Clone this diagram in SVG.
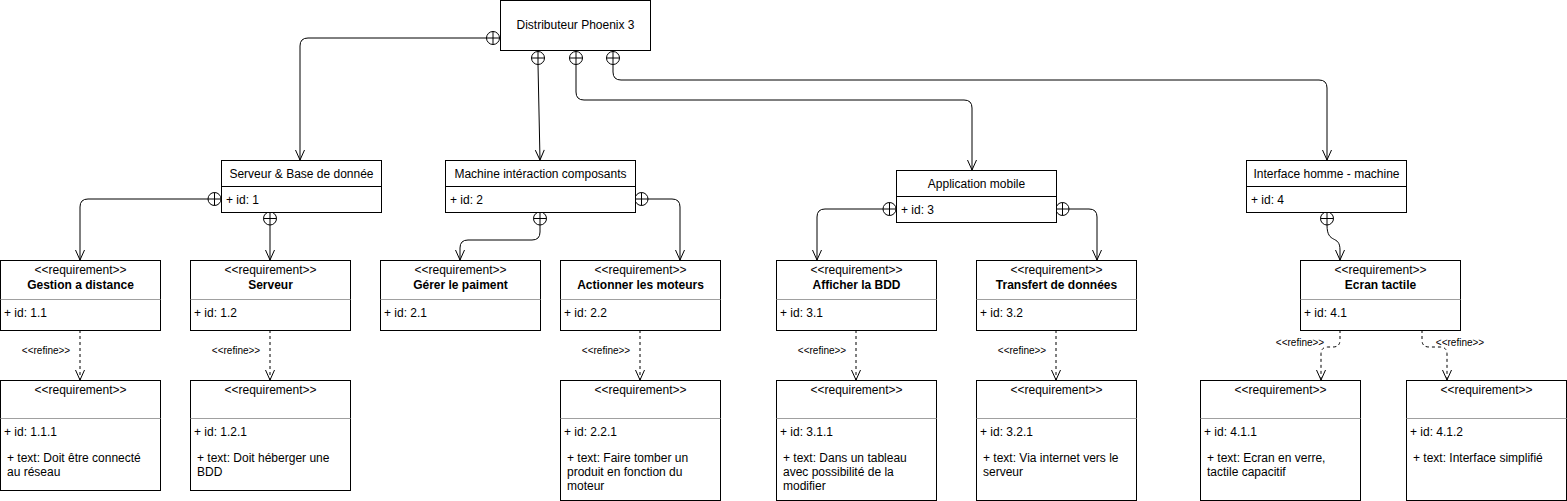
<svg xmlns="http://www.w3.org/2000/svg" xmlns:xlink="http://www.w3.org/1999/xlink" width="1567" height="501" viewBox="0 0 1567 501">
<style>
.box{fill:#fff;stroke:#000;stroke-width:1}
.dv{stroke:#000;stroke-width:1}
.gv{stroke:#a0a0a0;stroke-width:1}
.t{font-family:"Liberation Sans",Arial,sans-serif;font-size:12px;fill:#000}
.b{font-weight:bold}
.c{text-anchor:middle}
.conn{fill:none;stroke:#000;stroke-width:1}
.dash{stroke-dasharray:3 3}
.rf{font-family:"Liberation Sans",Arial,sans-serif;font-size:10px;fill:#000;text-anchor:middle}
</style>
<defs>
<marker id="arr" viewBox="-1 -6 12 12" refX="10" refY="0" markerWidth="12" markerHeight="12" markerUnits="userSpaceOnUse" orient="auto">
<path d="M0,-4.5 L10,0 L0,4.5" fill="none" stroke="#000" stroke-width="1"/>
</marker>
<g id="cp"><circle r="6.5" fill="#fff" stroke="#000" stroke-width="1"/><path d="M-6.5,0H6.5M0,-6.5V6.5" stroke="#000" stroke-width="1"/></g>
</defs>
<rect width="1567" height="501" fill="#fff"/>

<g id="connectors">
<path class="conn" marker-end="url(#arr)" d="M486.5,38 H308 Q300,38 300,46 V160"/>
<path class="conn" marker-end="url(#arr)" d="M538,64.5 L540,160"/>
<path class="conn" marker-end="url(#arr)" d="M576,64.5 V92 Q576,100 584,100 H964 Q972,100 972,108 V170"/>
<path class="conn" marker-end="url(#arr)" d="M613,64.5 V72 Q613,80 621,80 H1319 Q1327,80 1327,88 V160"/>
<path class="conn" marker-end="url(#arr)" d="M208,199 H88 Q80,199 80,207 V260"/>
<path class="conn" marker-end="url(#arr)" d="M270,225 V260"/>
<path class="conn" marker-end="url(#arr)" d="M540,225 V232 Q540,240 532,240 H468 Q460,240 460,248 V260"/>
<path class="conn" marker-end="url(#arr)" d="M648,199 H672 Q680,199 680,207 V260"/>
<path class="conn" marker-end="url(#arr)" d="M883,209 H825 Q817,209 817,217 V260"/>
<path class="conn" marker-end="url(#arr)" d="M1069,209 H1089 Q1097,209 1097,217 V260"/>
<path class="conn" marker-end="url(#arr)" d="M1327,225 C1327,245 1340,234 1340,250 V260"/>
<path class="conn dash" marker-end="url(#arr)" d="M80,330 V380"/>
<path class="conn dash" marker-end="url(#arr)" d="M270,330 V380"/>
<path class="conn dash" marker-end="url(#arr)" d="M640,330 V380"/>
<path class="conn dash" marker-end="url(#arr)" d="M856,330 V380"/>
<path class="conn dash" marker-end="url(#arr)" d="M1056,330 V380"/>
<path class="conn dash" marker-end="url(#arr)" d="M1340,330 V340 Q1340,347 1333,347 H1328 Q1321,347 1321,354 V380"/>
<path class="conn dash" marker-end="url(#arr)" d="M1422,330 V340 Q1422,347 1429,347 H1440 Q1447,347 1447,354 V380"/>
<use xlink:href="#cp" x="493" y="38"/>
<use xlink:href="#cp" x="538" y="58"/>
<use xlink:href="#cp" x="576" y="58"/>
<use xlink:href="#cp" x="613" y="58"/>
<use xlink:href="#cp" x="214.5" y="199"/>
<use xlink:href="#cp" x="270" y="218.5"/>
<use xlink:href="#cp" x="540" y="218.5"/>
<use xlink:href="#cp" x="641.5" y="199"/>
<use xlink:href="#cp" x="889.5" y="209"/>
<use xlink:href="#cp" x="1062.5" y="209"/>
<use xlink:href="#cp" x="1327" y="218.5"/>
<text class="rf" x="46" y="354">&lt;&lt;refine&gt;&gt;</text>
<text class="rf" x="236" y="354">&lt;&lt;refine&gt;&gt;</text>
<text class="rf" x="606" y="354">&lt;&lt;refine&gt;&gt;</text>
<text class="rf" x="822" y="354">&lt;&lt;refine&gt;&gt;</text>
<text class="rf" x="1022" y="354">&lt;&lt;refine&gt;&gt;</text>
<text class="rf" x="1300" y="346">&lt;&lt;refine&gt;&gt;</text>
<text class="rf" x="1460" y="346">&lt;&lt;refine&gt;&gt;</text>
</g>

<g id="n-root">
<rect class="box" x="500.5" y="0.5" width="150" height="50"/>
<text class="t c" x="575.5" y="29">Distributeur Phoenix 3</text>
</g>

<g id="n-1">
<rect class="box" x="221.5" y="160.5" width="160" height="52"/>
<line class="dv" x1="221.5" y1="186.5" x2="381.5" y2="186.5"/>
<text class="t c" x="301.5" y="178">Serveur &amp; Base de donnée</text>
<text class="t" x="226" y="204">+ id: 1</text>
</g>
<g id="n-2">
<rect class="box" x="445.5" y="160.5" width="190" height="52"/>
<line class="dv" x1="445.5" y1="186.5" x2="635.5" y2="186.5"/>
<text class="t c" x="540.5" y="178">Machine intéraction composants</text>
<text class="t" x="450" y="204">+ id: 2</text>
</g>
<g id="n-3">
<rect class="box" x="896.5" y="170.5" width="160" height="52"/>
<line class="dv" x1="896.5" y1="196.5" x2="1056.5" y2="196.5"/>
<text class="t c" x="976.5" y="188">Application mobile</text>
<text class="t" x="901" y="214">+ id: 3</text>
</g>
<g id="n-4">
<rect class="box" x="1246.5" y="160.5" width="160" height="52"/>
<line class="dv" x1="1246.5" y1="186.5" x2="1406.5" y2="186.5"/>
<text class="t c" x="1326.5" y="178">Interface homme - machine</text>
<text class="t" x="1251" y="204">+ id: 4</text>
</g>

<g id="r-1-1">
<rect class="box" x="0.5" y="260.5" width="160" height="70"/>
<line class="gv" x1="0.5" y1="299.5" x2="160.5" y2="299.5"/>
<text class="t c" x="80.5" y="274">&lt;&lt;requirement&gt;&gt;</text>
<text class="t c b" x="80.5" y="289">Gestion a distance</text>
<text class="t" x="4" y="317">+ id: 1.1</text>
</g>
<g id="r-1-2">
<rect class="box" x="190.5" y="260.5" width="160" height="70"/>
<line class="gv" x1="190.5" y1="299.5" x2="350.5" y2="299.5"/>
<text class="t c" x="270.5" y="274">&lt;&lt;requirement&gt;&gt;</text>
<text class="t c b" x="270.5" y="289">Serveur</text>
<text class="t" x="194" y="317">+ id: 1.2</text>
</g>
<g id="r-2-1">
<rect class="box" x="380.5" y="260.5" width="160" height="70"/>
<line class="gv" x1="380.5" y1="299.5" x2="540.5" y2="299.5"/>
<text class="t c" x="460.5" y="274">&lt;&lt;requirement&gt;&gt;</text>
<text class="t c b" x="460.5" y="289">Gérer le paiment</text>
<text class="t" x="384" y="317">+ id: 2.1</text>
</g>
<g id="r-2-2">
<rect class="box" x="560.5" y="260.5" width="160" height="70"/>
<line class="gv" x1="560.5" y1="299.5" x2="720.5" y2="299.5"/>
<text class="t c" x="640.5" y="274">&lt;&lt;requirement&gt;&gt;</text>
<text class="t c b" x="640.5" y="289">Actionner les moteurs</text>
<text class="t" x="564" y="317">+ id: 2.2</text>
</g>
<g id="r-3-1">
<rect class="box" x="776.5" y="260.5" width="160" height="70"/>
<line class="gv" x1="776.5" y1="299.5" x2="936.5" y2="299.5"/>
<text class="t c" x="856.5" y="274">&lt;&lt;requirement&gt;&gt;</text>
<text class="t c b" x="856.5" y="289">Afficher la BDD</text>
<text class="t" x="780" y="317">+ id: 3.1</text>
</g>
<g id="r-3-2">
<rect class="box" x="976.5" y="260.5" width="160" height="70"/>
<line class="gv" x1="976.5" y1="299.5" x2="1136.5" y2="299.5"/>
<text class="t c" x="1056.5" y="274">&lt;&lt;requirement&gt;&gt;</text>
<text class="t c b" x="1056.5" y="289">Transfert de données</text>
<text class="t" x="980" y="317">+ id: 3.2</text>
</g>
<g id="r-4-1">
<rect class="box" x="1300.5" y="260.5" width="160" height="70"/>
<line class="gv" x1="1300.5" y1="299.5" x2="1460.5" y2="299.5"/>
<text class="t c" x="1380.5" y="274">&lt;&lt;requirement&gt;&gt;</text>
<text class="t c b" x="1380.5" y="289">Ecran tactile</text>
<text class="t" x="1304" y="317">+ id: 4.1</text>
</g>

<g id="r-1-1-1">
<rect class="box" x="0.5" y="380.5" width="160" height="110"/>
<line class="gv" x1="0.5" y1="418.5" x2="160.5" y2="418.5"/>
<text class="t c" x="80.5" y="394">&lt;&lt;requirement&gt;&gt;</text>
<text class="t" x="4" y="436">+ id: 1.1.1</text>
<text class="t" x="7" y="462">+ text: Doit être connecté</text>
<text class="t" x="7" y="476">au réseau</text>
</g>
<g id="r-1-2-1">
<rect class="box" x="190.5" y="380.5" width="160" height="110"/>
<line class="gv" x1="190.5" y1="418.5" x2="350.5" y2="418.5"/>
<text class="t c" x="270.5" y="394">&lt;&lt;requirement&gt;&gt;</text>
<text class="t" x="194" y="436">+ id: 1.2.1</text>
<text class="t" x="197" y="462">+ text: Doit héberger une</text>
<text class="t" x="197" y="476">BDD</text>
</g>
<g id="r-2-2-1">
<rect class="box" x="560.5" y="380.5" width="160" height="120"/>
<line class="gv" x1="560.5" y1="418.5" x2="720.5" y2="418.5"/>
<text class="t c" x="640.5" y="394">&lt;&lt;requirement&gt;&gt;</text>
<text class="t" x="564" y="436">+ id: 2.2.1</text>
<text class="t" x="567" y="462">+ text: Faire tomber un</text>
<text class="t" x="567" y="476">produit en fonction du</text>
<text class="t" x="567" y="490">moteur</text>
</g>
<g id="r-3-1-1">
<rect class="box" x="776.5" y="380.5" width="160" height="120"/>
<line class="gv" x1="776.5" y1="418.5" x2="936.5" y2="418.5"/>
<text class="t c" x="856.5" y="394">&lt;&lt;requirement&gt;&gt;</text>
<text class="t" x="780" y="436">+ id: 3.1.1</text>
<text class="t" x="783" y="462">+ text: Dans un tableau</text>
<text class="t" x="783" y="476">avec possibilité de la</text>
<text class="t" x="783" y="490">modifier</text>
</g>
<g id="r-3-2-1">
<rect class="box" x="976.5" y="380.5" width="160" height="120"/>
<line class="gv" x1="976.5" y1="418.5" x2="1136.5" y2="418.5"/>
<text class="t c" x="1056.5" y="394">&lt;&lt;requirement&gt;&gt;</text>
<text class="t" x="980" y="436">+ id: 3.2.1</text>
<text class="t" x="983" y="462">+ text: Via internet vers le</text>
<text class="t" x="983" y="476">serveur</text>
</g>
<g id="r-4-1-1">
<rect class="box" x="1200.5" y="380.5" width="160" height="120"/>
<line class="gv" x1="1200.5" y1="418.5" x2="1360.5" y2="418.5"/>
<text class="t c" x="1280.5" y="394">&lt;&lt;requirement&gt;&gt;</text>
<text class="t" x="1204" y="436">+ id: 4.1.1</text>
<text class="t" x="1207" y="462">+ text: Ecran en verre,</text>
<text class="t" x="1207" y="476">tactile capacitif</text>
</g>
<g id="r-4-1-2">
<rect class="box" x="1406.5" y="380.5" width="160" height="120"/>
<line class="gv" x1="1406.5" y1="418.5" x2="1566.5" y2="418.5"/>
<text class="t c" x="1486.5" y="394">&lt;&lt;requirement&gt;&gt;</text>
<text class="t" x="1410" y="436">+ id: 4.1.2</text>
<text class="t" x="1413" y="462">+ text: Interface simplifié</text>
</g>
</svg>
